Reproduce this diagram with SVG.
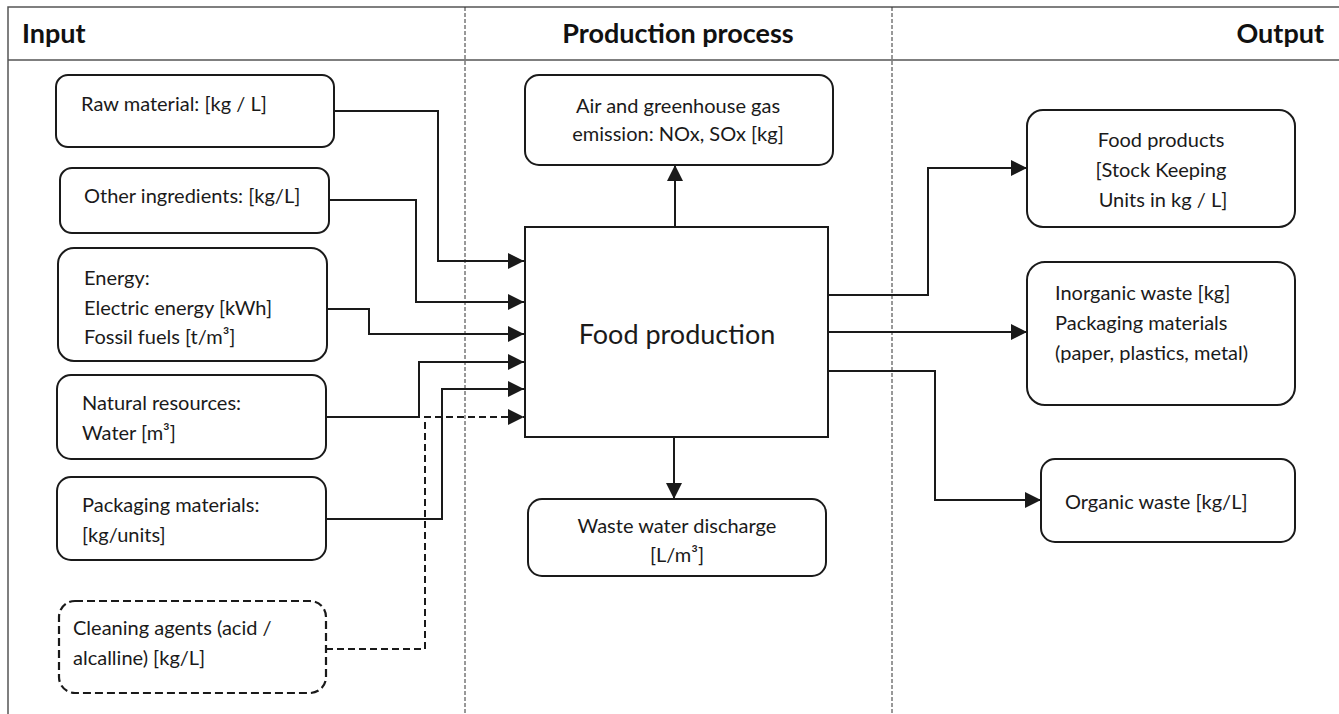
<svg xmlns="http://www.w3.org/2000/svg" width="1339" height="714" viewBox="0 0 1339 714">
<style>
.box{fill:#fff;stroke:#1a1a1a;stroke-width:2}
.dbox{fill:#fff;stroke:#1a1a1a;stroke-width:2.2;stroke-dasharray:8,4}
.t{font-family:Lato,"Open Sans","Liberation Sans",sans-serif;font-size:20px;fill:#1a1a1a}
.c{text-anchor:middle}
.h{font-family:Lato,"Open Sans","Liberation Sans",sans-serif;font-size:27px;font-weight:bold;fill:#111}
.big{font-family:Lato,"Open Sans","Liberation Sans",sans-serif;font-size:27px;fill:#1a1a1a;text-anchor:middle}
.frame{stroke:#555;stroke-width:1.5;fill:none}
.div{stroke:#333;stroke-width:1;stroke-dasharray:4,2;fill:none}
.con{stroke:#1a1a1a;stroke-width:2;fill:none}
.dcon{stroke:#1a1a1a;stroke-width:2;fill:none;stroke-dasharray:7,4}
</style>
<defs>
<marker id="arr" markerUnits="userSpaceOnUse" markerWidth="16" markerHeight="16" viewBox="0 0 16 16" refX="16" refY="8" orient="auto">
<path d="M0,0 L16,8 L0,16 z" fill="#1a1a1a"/>
</marker>
</defs>
<rect width="1339" height="714" fill="#fff"/>
<g id="frame">
<path class="frame" d="M8,714 V7 H1339 M8,60 H1339"/>
<path class="div" d="M465,7 V714 M892,7 V714"/>
<text class="h" x="22" y="43">Input</text>
<text class="h c" x="678" y="43">Production process</text>
<text class="h" x="1324" y="43" text-anchor="end">Output</text>
</g>
<g id="connectors">
<path class="con" marker-end="url(#arr)" d="M334,111 H438 V261 H524"/>
<path class="con" marker-end="url(#arr)" d="M329,200 H416 V302 H524"/>
<path class="con" marker-end="url(#arr)" d="M327,309 H369 V334 H524"/>
<path class="con" marker-end="url(#arr)" d="M326,417 H419 V362 H524"/>
<path class="con" marker-end="url(#arr)" d="M326,519 H442 V389 H524"/>
<path class="dcon" marker-end="url(#arr)" d="M326,649 H425 V417 H524"/>
<path class="con" marker-end="url(#arr)" d="M675,227 V165"/>
<path class="con" marker-end="url(#arr)" d="M674,437 V499"/>
<path class="con" marker-end="url(#arr)" d="M828,295 H928 V168 H1027"/>
<path class="con" marker-end="url(#arr)" d="M828,332 H1027"/>
<path class="con" marker-end="url(#arr)" d="M828,371 H935 V500 H1041"/>
</g>
<g id="raw">
<rect class="box" x="56" y="75" width="278" height="72" rx="12"/>
<text class="t" x="81" y="111">Raw material: [kg / L]</text>
</g>
<g id="other">
<rect class="box" x="60" y="168" width="269" height="65" rx="12"/>
<text class="t" x="84" y="203">Other ingredients: [kg/L]</text>
</g>
<g id="energy">
<rect class="box" x="58" y="248" width="269" height="113" rx="16"/>
<text class="t" x="84" y="285">Energy:</text>
<text class="t" x="84" y="315">Electric energy [kWh]</text>
<text class="t" x="84" y="344">Fossil fuels [t/m³]</text>
</g>
<g id="natural">
<rect class="box" x="57" y="375" width="269" height="84" rx="14"/>
<text class="t" x="82" y="410">Natural resources:</text>
<text class="t" x="82" y="440">Water [m³]</text>
</g>
<g id="packaging">
<rect class="box" x="57" y="477" width="269" height="83" rx="14"/>
<text class="t" x="82" y="512">Packaging materials:</text>
<text class="t" x="82" y="542">[kg/units]</text>
</g>
<g id="cleaning">
<rect class="dbox" x="59" y="601" width="267" height="92" rx="16"/>
<text class="t" x="73" y="635">Cleaning agents (acid /</text>
<text class="t" x="73" y="665">alcalline) [kg/L]</text>
</g>
<g id="air">
<rect class="box" x="525" y="75" width="308" height="90" rx="14"/>
<text class="t c" x="678" y="113">Air and greenhouse gas</text>
<text class="t c" x="678" y="141">emission: NOx, SOx [kg]</text>
</g>
<g id="food">
<rect class="box" x="525" y="227" width="303" height="210"/>
<text class="big" x="677" y="344">Food production</text>
</g>
<g id="wastewater">
<rect class="box" x="528" y="499" width="298" height="77" rx="14"/>
<text class="t c" x="677" y="533">Waste water discharge</text>
<text class="t c" x="677" y="562">[L/m³]</text>
</g>
<g id="products">
<rect class="box" x="1027" y="110" width="268" height="117" rx="16"/>
<text class="t c" x="1161" y="147">Food products</text>
<text class="t c" x="1161" y="177">[Stock Keeping</text>
<text class="t c" x="1163" y="207">Units in kg / L]</text>
</g>
<g id="inorganic">
<rect class="box" x="1027" y="262" width="268" height="143" rx="18"/>
<text class="t" x="1055" y="300">Inorganic waste [kg]</text>
<text class="t" x="1055" y="330">Packaging materials</text>
<text class="t" x="1055" y="360">(paper, plastics, metal)</text>
</g>
<g id="organic">
<rect class="box" x="1041" y="459" width="254" height="83" rx="14"/>
<text class="t" x="1065" y="509">Organic waste [kg/L]</text>
</g>
</svg>
